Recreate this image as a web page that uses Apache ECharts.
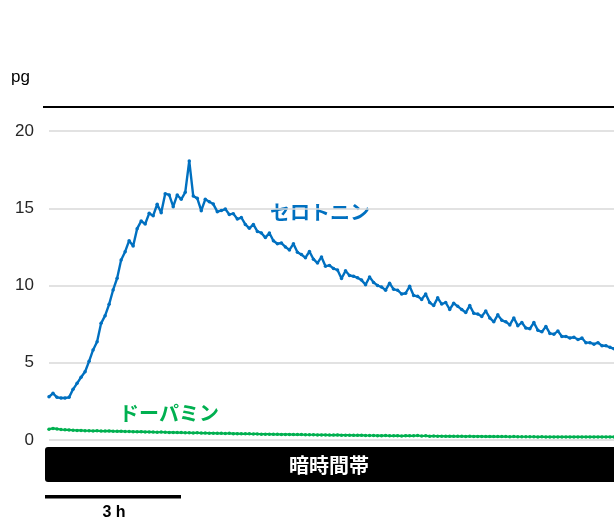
<!DOCTYPE html>
<html>
<head>
<meta charset="utf-8">
<script src="https://cdn.jsdelivr.net/npm/echarts@6/dist/echarts.min.js"></script>
<style>
html,body{margin:0;padding:0;background:#fff;}
#chart{width:614px;height:522px;}
</style>
</head>
<body>
<div id="chart"></div>
<script>
// ---- data ----
var yTicks = [0, 5, 10, 15, 20];
var unitLabel = 'pg';
var serotoninName = 'セロトニン';
var dopamineName = 'ドーパミン';
var darkPeriodLabel = '暗時間帯';
var scaleLabel = '3 h';

var serotonin = [
  2.80, 3.02, 2.76, 2.72, 2.72, 2.76, 3.28, 3.67, 4.06, 4.42,
  5.09, 5.83, 6.36, 7.55, 8.05, 8.78, 9.71, 10.47, 11.65, 12.19,
  12.90, 12.56, 13.68, 14.17, 13.98, 14.67, 14.52, 15.26, 14.71, 15.94,
  15.86, 15.10, 15.86, 15.58, 16.03, 18.06, 15.79, 15.64, 14.84, 15.58,
  15.42, 15.27, 14.78, 14.85, 14.95, 14.60, 14.65, 14.30, 14.40, 13.95,
  13.70, 13.95, 13.50, 13.40, 13.10, 13.40, 12.90, 12.70, 12.75, 12.50,
  12.30, 12.70, 12.15, 12.00, 11.80, 12.20, 11.70, 11.45, 11.85, 11.25,
  11.30, 11.10, 11.00, 10.45, 10.95, 10.65, 10.60, 10.50, 10.35, 10.05,
  10.55, 10.20, 10.00, 9.90, 9.70, 10.15, 9.75, 9.70, 9.45, 9.50,
  9.95, 9.35, 9.30, 9.10, 9.45, 8.90, 8.70, 9.20, 8.80, 8.90,
  8.45, 8.85, 8.65, 8.45, 8.25, 8.70, 8.20, 8.15, 8.00, 8.35,
  7.90, 7.65, 8.10, 7.75, 7.65, 7.45, 7.90, 7.40, 7.60, 7.25,
  7.20, 7.60, 7.10, 7.00, 7.35, 6.90, 6.85, 7.05, 6.70, 6.70,
  6.60, 6.65, 6.50, 6.60, 6.30, 6.30, 6.20, 6.30, 6.10, 6.10,
  6.00, 5.90
];

var dopamine = [
  0.70, 0.75, 0.72, 0.68, 0.66, 0.65, 0.63, 0.62, 0.62, 0.60,
  0.60, 0.59, 0.60, 0.58, 0.58, 0.59, 0.57, 0.56, 0.57, 0.55,
  0.55, 0.54, 0.53, 0.54, 0.52, 0.52, 0.51, 0.50, 0.51, 0.50,
  0.49, 0.49, 0.48, 0.48, 0.47, 0.47, 0.46, 0.47, 0.45, 0.45,
  0.44, 0.44, 0.43, 0.43, 0.42, 0.43, 0.41, 0.41, 0.40, 0.40,
  0.40, 0.39, 0.39, 0.38, 0.38, 0.38, 0.37, 0.37, 0.36, 0.36,
  0.36, 0.35, 0.35, 0.35, 0.34, 0.34, 0.34, 0.33, 0.33, 0.33,
  0.32, 0.32, 0.33, 0.31, 0.31, 0.31, 0.30, 0.30, 0.31, 0.29,
  0.29, 0.29, 0.28, 0.28, 0.29, 0.27, 0.27, 0.28, 0.26, 0.28,
  0.27, 0.27, 0.29, 0.26, 0.27, 0.25, 0.26, 0.25, 0.25, 0.24,
  0.25, 0.24, 0.24, 0.24, 0.23, 0.24, 0.23, 0.23, 0.23, 0.22,
  0.23, 0.22, 0.22, 0.22, 0.22, 0.21, 0.22, 0.21, 0.21, 0.21,
  0.21, 0.21, 0.20, 0.21, 0.20, 0.20, 0.20, 0.20, 0.20, 0.20,
  0.20, 0.20, 0.20, 0.20, 0.20, 0.20, 0.20, 0.20, 0.20, 0.20,
  0.20, 0.20
];

// time categories (5-minute steps)
var categories = serotonin.map(function (_, i) { return String(i * 5); });

// ---- chart ----
var chart = echarts.init(document.getElementById('chart'), null, {renderer: 'canvas'});
var FONT = '"Liberation Sans", Arial, "Noto Sans CJK JP", sans-serif';
var JP = '"Noto Sans CJK JP", "Liberation Sans", sans-serif';

chart.setOption({
  animation: false,
  backgroundColor: '#ffffff',
  grid: {left: 49, right: 0, top: 131, bottom: 82, containLabel: false},
  xAxis: {
    type: 'category',
    data: categories,
    boundaryGap: false,
    axisLine: {show: false},
    axisTick: {show: false},
    axisLabel: {show: false},
    splitLine: {show: false}
  },
  yAxis: {
    type: 'value',
    min: yTicks[0],
    max: yTicks[yTicks.length - 1],
    interval: yTicks[1] - yTicks[0],
    axisLine: {show: false},
    axisTick: {show: false},
    axisLabel: {fontFamily: FONT, fontSize: 17, color: '#262626', margin: 15},
    splitLine: {lineStyle: {color: '#d9d9d9', width: 1.5}}
  },
  series: [
    {
      name: serotoninName,
      type: 'line',
      data: serotonin,
      symbol: 'circle',
      symbolSize: 3.5,
      showSymbol: true,
      showAllSymbol: true,
      itemStyle: {color: '#0070C0'},
      lineStyle: {color: '#0070C0', width: 2.4},
      z: 3
    },
    {
      name: dopamineName,
      type: 'line',
      data: dopamine,
      symbol: 'circle',
      symbolSize: 3.5,
      showSymbol: true,
      showAllSymbol: true,
      itemStyle: {color: '#00B050'},
      lineStyle: {color: '#00B050', width: 2.2},
      z: 2
    }
  ],
  graphic: [
    {type: 'line', shape: {x1: 43, y1: 107, x2: 614, y2: 107}, style: {stroke: '#000', lineWidth: 2}},
    {type: 'text', left: 11, top: 69, style: {text: unitLabel, font: '17px ' + FONT, fill: '#000'}},
    {type: 'text', x: 320, y: 212.5, style: {text: serotoninName, font: 'bold 20px ' + JP, fill: '#0070C0', align: 'center', verticalAlign: 'middle'}},
    {type: 'text', x: 169, y: 413, style: {text: dopamineName, font: 'bold 20px ' + JP, fill: '#00B050', align: 'center', verticalAlign: 'middle'}},
    {type: 'rect', shape: {x: 45, y: 447, width: 575, height: 35, r: 3}, style: {fill: '#000'}},
    {type: 'text', x: 329, y: 465, style: {text: darkPeriodLabel, font: 'bold 20px ' + JP, fill: '#fff', align: 'center', verticalAlign: 'middle'}},
    {type: 'rect', shape: {x: 45, y: 495, width: 136, height: 3.5}, style: {fill: '#000'}},
    {type: 'text', x: 114, y: 513, style: {text: scaleLabel, font: 'bold 16px ' + FONT, fill: '#000', align: 'center', verticalAlign: 'middle'}}
  ]
});
</script>
</body>
</html>
